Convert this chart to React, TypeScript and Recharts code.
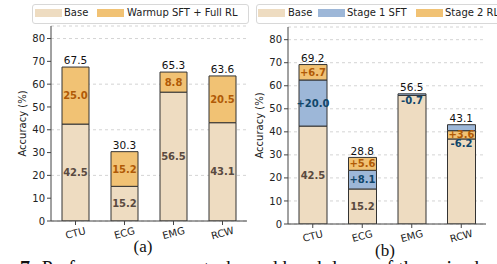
import { ComposedChart, Bar, Line, XAxis, YAxis, CartesianGrid, LabelList } from "recharts";

const categories = ["CTU", "ECG", "EMG", "RCW"];

// panel (a)
const baseA = [42.5, 15.2, 56.5, 43.1];
const warmupA = [25.0, 15.2, 8.8, 20.5];
const totalA = [67.5, 30.3, 65.3, 63.6];

// panel (b) - drawn segments
const baseB = [42.5, 15.2, 55.8, 36.9];
const sftB = [20.0, 8.1, null, null];
const rlB = [6.7, 5.6, null, 3.6];
const sftTopB = [null, null, 0.7, 2.6];
const totalB = [69.2, 28.8, 56.5, 43.1];
const baseLabelB = ["42.5", "15.2", null, null];
const sftNegLabelB = [null, null, "-0.7", "-6.2"];

const yTicks = [0, 10, 20, 30, 40, 50, 60, 70, 80];

const BASE = "#EEDCC1";
const ORANGE = "#F1C274";
const BLUE = "#9DB7D8";
const BASE_TXT = "#5A4A40";
const ORANGE_TXT = "#B05A06";
const BLUE_TXT = "#10466A";
const EDGE = "#333333";
const SPINE = "#444444";
const FONT = "'DejaVu Sans', sans-serif";

const dataA = categories.map((name, i) => ({
  name,
  base: baseA[i],
  warmup: warmupA[i],
  total: totalA[i],
}));

const dataB = categories.map((name, i) => ({
  name,
  base: baseB[i],
  sft: sftB[i],
  rl: rlB[i],
  sftTop: sftTopB[i],
  total: totalB[i],
  baseLabel: baseLabelB[i],
  negLabel: sftNegLabelB[i],
}));

const fmt = (v: any) => (v == null ? "" : Number(v).toFixed(1));
const fmtPlus = (v: any) => (v == null ? "" : "+" + Number(v).toFixed(1));

const XTick = (props: any) => {
  const { x, y, payload } = props;
  return (
    <g transform={`translate(${x},${y + 6})`}>
      <text
        transform="rotate(-15)"
        textAnchor="middle"
        dominantBaseline="central"
        fontSize={10}
        fill="#222"
        fontFamily={FONT}
      >
        {payload.value}
      </text>
    </g>
  );
};

const YLabel = (dx: number) => (props: any) => {
  const vb = props.viewBox;
  const cx = dx;
  const cy = vb.y + vb.height / 2;
  return (
    <text
      x={cx}
      y={cy}
      transform={`rotate(-90, ${cx}, ${cy})`}
      textAnchor="middle"
      dominantBaseline="central"
      fontSize={10}
      fill="#222"
      fontFamily={FONT}
    >
      Accuracy (%)
    </text>
  );
};

const NegLabel = (props: any) => {
  const vb = props.viewBox;
  if (!props.value || !vb) return null;
  return (
    <text
      x={vb.x + vb.width / 2}
      y={vb.y + 5}
      textAnchor="middle"
      dominantBaseline="central"
      fontSize={10}
      fontWeight="bold"
      fill={BLUE_TXT}
      fontFamily={FONT}
    >
      {props.value}
    </text>
  );
};

const segLabel = (fill: string) => ({
  position: "center" as const,
  fill,
  fontSize: 10,
  fontWeight: "bold",
  fontFamily: FONT,
});

const Frame = () => [
  <XAxis key="xt" xAxisId="top" orientation="top" dataKey="name" height={0} tick={false} tickLine={false} axisLine={{ stroke: SPINE }} />,
  <YAxis key="yr" yAxisId="right" orientation="right" width={0} tick={false} tickLine={false} axisLine={{ stroke: SPINE }} />,
];

const Swatch = ({ left, color }: { left: number; color: string }) => (
  <div style={{ position: "absolute", left, top: 9, width: 27, height: 8, background: color }} />
);

const LegText = ({ left, text }: { left: number; text: string }) => (
  <div
    style={{
      position: "absolute",
      left,
      top: 5,
      fontSize: 10,
      fontFamily: FONT,
      color: "#222",
      lineHeight: "16px",
      whiteSpace: "nowrap",
    }}
  >
    {text}
  </div>
);

export default function App() {
  return (
    <div
      style={{
        position: "absolute",
        left: 0,
        top: 0,
        width: 497,
        height: 264,
        overflow: "hidden",
        background: "#fff",
      }}
    >
      {/* panel (a) */}
      <div style={{ position: "absolute", left: 0, top: 0 }}>
        <ComposedChart width={250} height={264} data={dataA} margin={{ top: 26, right: 3, bottom: 13, left: 0 }}>
          <CartesianGrid vertical={false} strokeDasharray="3 3" stroke="#d4d4d4" />
          <XAxis
            dataKey="name"
            height={30}
            tick={<XTick />}
            tickSize={4}
            tickMargin={2}
            axisLine={{ stroke: SPINE }}
            tickLine={{ stroke: SPINE }}
            interval={0}
          />
          <YAxis
            width={51}
            domain={[0, 85.5]}
            ticks={yTicks}
            tickSize={4}
            tickMargin={2}
            allowDataOverflow
            axisLine={{ stroke: SPINE }}
            tickLine={{ stroke: SPINE }}
            tick={{ fontSize: 10, fill: "#222", fontFamily: FONT }}
            label={{ content: YLabel(22) }}
          />
          {Frame()}
          <Bar dataKey="base" stackId="s" fill={BASE} stroke={EDGE} strokeWidth={1} barSize={27} isAnimationActive={false}>
            <LabelList dataKey="base" formatter={fmt} {...segLabel(BASE_TXT)} />
          </Bar>
          <Bar dataKey="warmup" stackId="s" fill={ORANGE} stroke={EDGE} strokeWidth={1} barSize={27} isAnimationActive={false}>
            <LabelList dataKey="warmup" formatter={fmt} {...segLabel(ORANGE_TXT)} />
          </Bar>
          <Line dataKey="total" stroke="none" dot={false} activeDot={false} isAnimationActive={false}>
            <LabelList dataKey="total" position="top" offset={3} formatter={fmt} fill="#111" fontSize={10.5} fontFamily={FONT} />
          </Line>
        </ComposedChart>
      </div>

      {/* panel (b) */}
      <div style={{ position: "absolute", left: 247, top: 0 }}>
        <ComposedChart width={250} height={264} data={dataB} margin={{ top: 27, right: 11, bottom: 10, left: 0 }}>
          <CartesianGrid vertical={false} strokeDasharray="3 3" stroke="#d4d4d4" />
          <XAxis
            dataKey="name"
            height={30}
            tick={<XTick />}
            tickSize={4}
            tickMargin={2}
            axisLine={{ stroke: SPINE }}
            tickLine={{ stroke: SPINE }}
            interval={0}
          />
          <YAxis
            width={41}
            domain={[0, 85.5]}
            ticks={yTicks}
            tickSize={4}
            tickMargin={2}
            allowDataOverflow
            axisLine={{ stroke: SPINE }}
            tickLine={{ stroke: SPINE }}
            tick={{ fontSize: 10, fill: "#222", fontFamily: FONT }}
            label={{ content: YLabel(12) }}
          />
          {Frame()}
          <Bar dataKey="base" stackId="s" fill={BASE} stroke={EDGE} strokeWidth={1} barSize={28} isAnimationActive={false}>
            <LabelList dataKey="baseLabel" {...segLabel(BASE_TXT)} />
            <LabelList dataKey="negLabel" content={<NegLabel />} />
          </Bar>
          <Bar dataKey="sft" stackId="s" fill={BLUE} stroke={EDGE} strokeWidth={1} barSize={28} isAnimationActive={false}>
            <LabelList dataKey="sft" formatter={fmtPlus} {...segLabel(BLUE_TXT)} />
          </Bar>
          <Bar dataKey="rl" stackId="s" fill={ORANGE} stroke={EDGE} strokeWidth={1} barSize={28} isAnimationActive={false}>
            <LabelList dataKey="rl" formatter={fmtPlus} {...segLabel(ORANGE_TXT)} />
          </Bar>
          <Bar dataKey="sftTop" stackId="s" fill={BLUE} stroke={EDGE} strokeWidth={1} barSize={28} isAnimationActive={false} />
          <Line dataKey="total" stroke="none" dot={false} activeDot={false} isAnimationActive={false}>
            <LabelList dataKey="total" position="top" offset={3} formatter={fmt} fill="#111" fontSize={10.5} fontFamily={FONT} />
          </Line>
        </ComposedChart>
      </div>

      {/* legend (a) */}
      <div
        style={{
          position: "absolute",
          left: 32,
          top: 4,
          width: 215,
          height: 18,
          border: "1px solid #d8d8d8",
          borderRadius: 3,
          background: "#fff",
        }}
      />
      <Swatch left={35} color={BASE} />
      <LegText left={64} text="Base" />
      <Swatch left={97} color={ORANGE} />
      <LegText left={127} text="Warmup SFT + Full RL" />

      {/* legend (b) */}
      <div
        style={{
          position: "absolute",
          left: 256,
          top: 4,
          width: 260,
          height: 18,
          border: "1px solid #d8d8d8",
          borderRadius: 3,
          background: "#fff",
        }}
      />
      <Swatch left={258} color={BASE} />
      <LegText left={288} text="Base" />
      <Swatch left={318} color={BLUE} />
      <LegText left={347} text="Stage 1 SFT" />
      <Swatch left={416} color={ORANGE} />
      <LegText left={445} text="Stage 2 RL" />

      {/* captions */}
      <svg width={497} height={264} style={{ position: "absolute", left: 0, top: 0, pointerEvents: "none" }}>
        <text x={143} y={252} textAnchor="middle" fontSize={17} fontFamily="'Liberation Serif', serif" fill="#111">
          (a)
        </text>
        <text x={385} y={256} textAnchor="middle" fontSize={17} fontFamily="'Liberation Serif', serif" fill="#111">
          (b)
        </text>
        <text x={20} y={275} fontSize={20} fontFamily="'Liberation Serif', serif" fill="#111">
          <tspan fontWeight="bold">7:</tspan> Performance across tasks and breakdown of the gains by stage
        </text>
      </svg>
    </div>
  );
}
